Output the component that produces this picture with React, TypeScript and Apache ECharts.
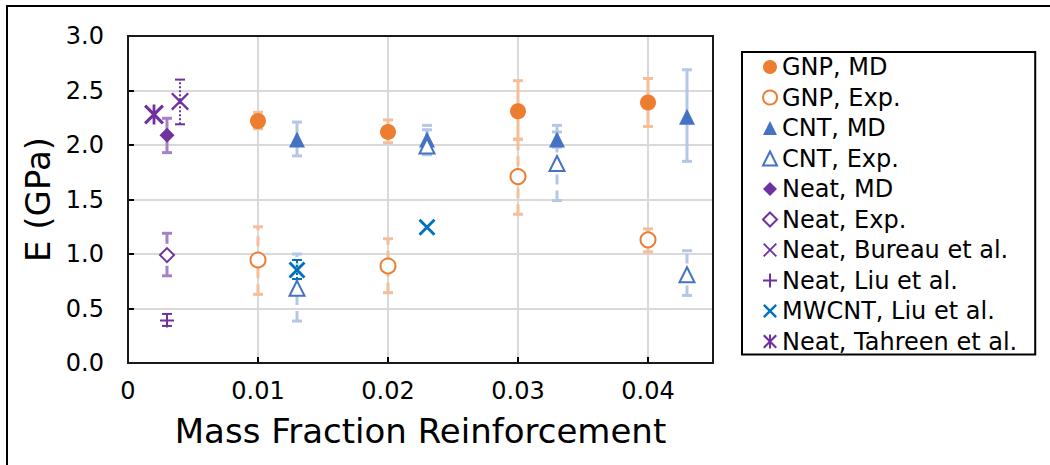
import React, { useEffect, useRef } from "react";
import * as echarts from "echarts";

// ---------- data ----------
const legendNames = [
  "GNP, MD",
  "GNP, Exp.",
  "CNT, MD",
  "CNT, Exp.",
  "Neat, MD",
  "Neat, Exp.",
  "Neat, Bureau et al.",
  "Neat, Liu et al.",
  "MWCNT, Liu et al.",
  "Neat, Tahreen et al.",
];

const xTickLabels = ["0", "0.01", "0.02", "0.03", "0.04"];
const yTickLabels = ["0.0", "0.5", "1.0", "1.5", "2.0", "2.5", "3.0"];

const gnpX = [0.01, 0.02, 0.03, 0.04];
const gnpMD = [2.22, 2.12, 2.31, 2.39];
const gnpMDLow = [2.15, 2.02, 2.05, 2.17];
const gnpMDHigh = [2.3, 2.23, 2.59, 2.61];
const gnpExp = [0.945, 0.89, 1.71, 1.13];
const gnpExpLow = [0.63, 0.645, 1.365, 1.02];
const gnpExpHigh = [1.25, 1.14, 2.055, 1.23];

const cntX = [0.013, 0.023, 0.033, 0.043];
const cntMD = [2.05, 2.05, 2.05, 2.26];
const cntMDLow = [1.9, 1.95, 1.98, 1.85];
const cntMDHigh = [2.21, 2.14, 2.12, 2.69];
const cntExp = [0.685, 1.99, 1.83, 0.81];
const cntExpLow = [0.385, 1.91, 1.49, 0.62];
const cntExpHigh = [1.0, 2.18, 2.18, 1.03];

const neatMDX = [0.003];
const neatMD = [2.09];
const neatMDLow = [1.93];
const neatMDHigh = [2.245];

const neatExpX = [0.003];
const neatExp = [0.99];
const neatExpLow = [0.8];
const neatExpHigh = [1.19];

const bureauX = [0.004];
const bureau = [2.4];
const bureauLow = [2.19];
const bureauHigh = [2.6];

const liuNeatX = [0.003];
const liuNeat = [0.39];
const liuNeatLow = [0.34];
const liuNeatHigh = [0.45];

const mwcntX = [0.013, 0.023];
const mwcnt = [0.853, 1.245];
const mwcntLow = [0.77, 1.245];
const mwcntHigh = [0.945, 1.245];

const tahreenX = [0.002];
const tahreen = [2.28];

// ---------- styling ----------
const FONT = "DejaVu Sans";
const ORANGE = "#ED7D31";
const ORANGE_ERR = "#F6BE98";
const BLUE = "#4472C4";
const BLUE_ERR = "#B4C7E7";
const PURPLE = "#7030A0";
const PURPLE_ERR = "#A582C6";
const MWBLUE = "#0070C0";

const X_PATH = "path://M0,0.9 L0.9,0 L10,9.1 L9.1,10 Z M9.1,0 L10,0.9 L0.9,10 L0,9.1 Z";
const X_BOLD_PATH = "path://M0,1.2 L1.2,0 L10,8.8 L8.8,10 Z M8.8,0 L10,1.2 L1.2,10 L0,8.8 Z";
const PLUS_PATH =
  "path://M4.3,0 L5.7,0 L5.7,4.3 L10,4.3 L10,5.7 L5.7,5.7 L5.7,10 L4.3,10 L4.3,5.7 L0,5.7 L0,4.3 L4.3,4.3 Z";
const STAR_PATH =
  "path://M0,1.1 L1.1,0 L10,8.9 L8.9,10 Z M8.9,0 L10,1.1 L1.1,10 L0,8.9 Z M4.3,0 L5.7,0 L5.7,10 L4.3,10 Z";

const pts = (xs: number[], ys: number[]) => xs.map((x, i) => [x, ys[i]]);
const errPts = (xs: number[], lo: number[], hi: number[]) => xs.map((x, i) => [x, lo[i], hi[i]]);

function errSeries(name: string, data: number[][], color: string, dash: any, width = 3) {
  return {
    type: "custom",
    name,
    z: 1,
    silent: true,
    encode: { x: 0, y: [1, 2] },
    data,
    renderItem: (params: any, api: any) => {
      const x = api.value(0);
      const lo = api.coord([x, api.value(1)]);
      const hi = api.coord([x, api.value(2)]);
      if (Math.abs(lo[1] - hi[1]) < 0.5) return { type: "group", children: [] };
      const cap = 5;
      return {
        type: "group",
        children: [
          {
            type: "line",
            shape: { x1: lo[0], y1: lo[1], x2: hi[0], y2: hi[1] },
            style: { stroke: color, lineWidth: width, lineDash: dash },
          },
          {
            type: "line",
            shape: { x1: lo[0] - cap, y1: lo[1], x2: lo[0] + cap, y2: lo[1] },
            style: { stroke: color, lineWidth: width },
          },
          {
            type: "line",
            shape: { x1: hi[0] - cap, y1: hi[1], x2: hi[0] + cap, y2: hi[1] },
            style: { stroke: color, lineWidth: width },
          },
        ],
      };
    },
  };
}

function scatter(name: string, data: number[][], symbol: string, size: number, itemStyle: any) {
  return {
    type: "scatter",
    name,
    z: 3,
    symbol,
    symbolSize: size,
    data,
    itemStyle: { opacity: 1, ...itemStyle },
    emphasis: { disabled: true },
  };
}

const GRID = { left: 128, top: 36, right: 337, bottom: 102 };

export default function App() {
  const ref = useRef<HTMLDivElement>(null);
  useEffect(() => {
    if (!ref.current) return;
    const chart = echarts.init(ref.current, undefined, { renderer: "svg" });
    const option: any = {
      animation: false,
      backgroundColor: "#fff",
      textStyle: { fontFamily: FONT },
      grid: { ...GRID, containLabel: false },
      xAxis: {
        type: "value",
        min: 0,
        max: 0.045,
        interval: 0.01,
        name: "Mass Fraction Reinforcement",
        nameLocation: "middle",
        nameGap: 51,
        nameTextStyle: { fontSize: 34, color: "#000", fontFamily: FONT },
        axisLine: { show: true, lineStyle: { color: "#000", width: 2 } },
        axisTick: { show: true, inside: true, length: 6, lineStyle: { color: "#000", width: 2 } },
        axisLabel: {
          fontSize: 24,
          color: "#000",
          margin: 16,
          fontFamily: FONT,
          formatter: (v: number) => {
            const k = v / 0.01;
            const r = Math.round(k);
            return Math.abs(k - r) < 1e-6 && xTickLabels[r] !== undefined ? xTickLabels[r] : "";
          },
        },
        splitLine: { show: true, lineStyle: { color: "#D9D9D9", width: 2 } },
      },
      yAxis: {
        type: "value",
        min: 0,
        max: 3,
        interval: 0.5,
        name: "E (GPa)",
        nameLocation: "middle",
        nameGap: 73,
        nameTextStyle: { fontSize: 34, color: "#000", fontFamily: FONT },
        axisLine: { show: true, lineStyle: { color: "#000", width: 2 } },
        axisTick: { show: true, inside: true, length: 6, lineStyle: { color: "#000", width: 2 } },
        axisLabel: {
          fontSize: 24,
          color: "#000",
          margin: 24,
          fontFamily: FONT,
          formatter: (v: number) => {
            const r = Math.round(v / 0.5);
            return yTickLabels[r] ?? "";
          },
        },
        splitLine: { show: true, lineStyle: { color: "#D9D9D9", width: 2 } },
      },
      legend: {
        data: legendNames,
        orient: "vertical",
        left: 742,
        top: 52,
        itemWidth: 14,
        itemHeight: 14,
        itemGap: 6.5,
        padding: [3, 18, 1, 20],
        borderColor: "#000",
        borderWidth: 2,
        textStyle: { fontSize: 24, lineHeight: 24, color: "#000", fontFamily: FONT },
      },
      graphic: [
        {
          type: "rect",
          z: 100,
          silent: true,
          shape: { x: 7, y: 6, width: 1100, height: 600 },
          style: { fill: "none", stroke: "#000", lineWidth: 2 },
        },
        {
          type: "rect",
          z: 100,
          silent: true,
          shape: { x: GRID.left, y: GRID.top, width: 1050 - GRID.left - GRID.right, height: 465 - GRID.top - GRID.bottom },
          style: { fill: "none", stroke: "#1a1a1a", lineWidth: 2 },
        },
      ],
      series: [
        errSeries("e1", errPts(gnpX, gnpMDLow, gnpMDHigh), ORANGE_ERR, null),
        errSeries("e2", errPts(gnpX, gnpExpLow, gnpExpHigh), ORANGE_ERR, [10, 6]),
        errSeries("e3", errPts(cntX, cntMDLow, cntMDHigh), BLUE_ERR, null),
        errSeries("e4", errPts(cntX, cntExpLow, cntExpHigh), BLUE_ERR, [10, 6]),
        errSeries("e5", errPts(neatMDX, neatMDLow, neatMDHigh), PURPLE_ERR, null),
        errSeries("e6", errPts(neatExpX, neatExpLow, neatExpHigh), PURPLE_ERR, [10, 6]),
        errSeries("e7", errPts(bureauX, bureauLow, bureauHigh), PURPLE, [2, 2], 2),
        errSeries("e8", errPts(liuNeatX, liuNeatLow, liuNeatHigh), PURPLE, [2, 2], 2),
        errSeries("e9", errPts(mwcntX, mwcntLow, mwcntHigh), MWBLUE, [2, 2], 2),
        scatter("GNP, MD", pts(gnpX, gnpMD), "circle", 16, { color: ORANGE }),
        scatter("GNP, Exp.", pts(gnpX, gnpExp), "emptyCircle", 15, { color: ORANGE, borderWidth: 1.6 }),
        scatter("CNT, MD", pts(cntX, cntMD), "triangle", 16, { color: BLUE }),
        scatter("CNT, Exp.", pts(cntX, cntExp), "emptyTriangle", 15, { color: BLUE, borderWidth: 1.6 }),
        scatter("Neat, MD", pts(neatMDX, neatMD), "diamond", 15, { color: PURPLE }),
        scatter("Neat, Exp.", pts(neatExpX, neatExp), "emptyDiamond", 14, { color: PURPLE, borderWidth: 2 }),
        scatter("Neat, Bureau et al.", pts(bureauX, bureau), X_PATH, 18, { color: PURPLE }),
        scatter("Neat, Liu et al.", pts(liuNeatX, liuNeat), PLUS_PATH, 14, { color: PURPLE }),
        scatter("MWCNT, Liu et al.", pts(mwcntX, mwcnt), X_BOLD_PATH, 17, { color: MWBLUE }),
        scatter("Neat, Tahreen et al.", pts(tahreenX, tahreen), STAR_PATH, 20, { color: PURPLE }),
      ],
    };
    chart.setOption(option);
    return () => chart.dispose();
  }, []);
  return (
    <div
      ref={ref}
      style={{ position: "absolute", left: 0, top: 0, width: 1050, height: 465, background: "#fff" }}
    />
  );
}
